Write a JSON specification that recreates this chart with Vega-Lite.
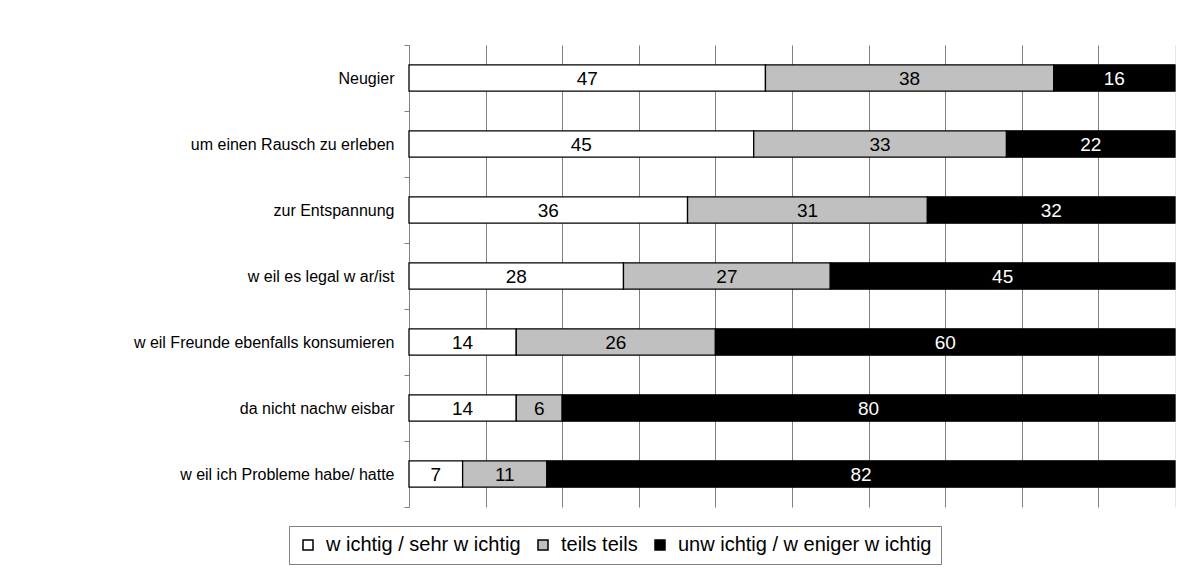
{
  "$schema": "https://vega.github.io/schema/vega-lite/v6.json",
  "width": 766,
  "height": 462,
  "autosize": {"type": "none"},
  "padding": {"left": 409, "top": 45, "right": 29, "bottom": 79},
  "background": "white",
  "config": {
    "view": {"stroke": null},
    "font": "Liberation Sans",
    "axis": {"labelFont": "Liberation Sans", "titleFont": "Liberation Sans"},
    "legend": {"labelFont": "Liberation Sans"}
  },
  "data": {
    "values": [
      {"cat": "Neugier", "resp": "w ichtig / sehr w ichtig", "o": 1, "v": 47},
      {"cat": "Neugier", "resp": "teils teils", "o": 2, "v": 38},
      {"cat": "Neugier", "resp": "unw ichtig / w eniger w ichtig", "o": 3, "v": 16},
      {"cat": "um einen Rausch zu erleben", "resp": "w ichtig / sehr w ichtig", "o": 1, "v": 45},
      {"cat": "um einen Rausch zu erleben", "resp": "teils teils", "o": 2, "v": 33},
      {"cat": "um einen Rausch zu erleben", "resp": "unw ichtig / w eniger w ichtig", "o": 3, "v": 22},
      {"cat": "zur Entspannung", "resp": "w ichtig / sehr w ichtig", "o": 1, "v": 36},
      {"cat": "zur Entspannung", "resp": "teils teils", "o": 2, "v": 31},
      {"cat": "zur Entspannung", "resp": "unw ichtig / w eniger w ichtig", "o": 3, "v": 32},
      {"cat": "w eil es legal w ar/ist", "resp": "w ichtig / sehr w ichtig", "o": 1, "v": 28},
      {"cat": "w eil es legal w ar/ist", "resp": "teils teils", "o": 2, "v": 27},
      {"cat": "w eil es legal w ar/ist", "resp": "unw ichtig / w eniger w ichtig", "o": 3, "v": 45},
      {"cat": "w eil Freunde ebenfalls konsumieren", "resp": "w ichtig / sehr w ichtig", "o": 1, "v": 14},
      {"cat": "w eil Freunde ebenfalls konsumieren", "resp": "teils teils", "o": 2, "v": 26},
      {"cat": "w eil Freunde ebenfalls konsumieren", "resp": "unw ichtig / w eniger w ichtig", "o": 3, "v": 60},
      {"cat": "da nicht nachw eisbar", "resp": "w ichtig / sehr w ichtig", "o": 1, "v": 14},
      {"cat": "da nicht nachw eisbar", "resp": "teils teils", "o": 2, "v": 6},
      {"cat": "da nicht nachw eisbar", "resp": "unw ichtig / w eniger w ichtig", "o": 3, "v": 80},
      {"cat": "w eil ich Probleme habe/ hatte", "resp": "w ichtig / sehr w ichtig", "o": 1, "v": 7},
      {"cat": "w eil ich Probleme habe/ hatte", "resp": "teils teils", "o": 2, "v": 11},
      {"cat": "w eil ich Probleme habe/ hatte", "resp": "unw ichtig / w eniger w ichtig", "o": 3, "v": 82}
    ]
  },
  "encoding": {
    "y": {
      "field": "cat",
      "type": "nominal",
      "sort": null,
      "scale": {"paddingInner": 0, "paddingOuter": 0},
      "axis": {
        "title": null,
        "tickBand": "extent",
        "domainColor": "#808080",
        "domainWidth": 1,
        "tickColor": "#808080",
        "tickSize": 5,
        "labelFontSize": 16,
        "labelColor": "#000000",
        "labelPadding": 10,
        "labelLimit": 0,
        "grid": false
      }
    },
    "x": {
      "field": "v",
      "type": "quantitative",
      "stack": "normalize",
      "scale": {"domain": [0, 1], "nice": false},
      "axis": {
        "title": null,
        "labels": false,
        "ticks": false,
        "domain": false,
        "grid": true,
        "values": [0.1, 0.2, 0.3, 0.4, 0.5, 0.6, 0.7, 0.8, 0.9, 1.0],
        "gridColor": {"condition": {"test": "datum.value >= 0.99", "value": "#e6e6e6"}, "value": "#808080"},
        "gridWidth": 1
      }
    },
    "order": {"field": "o", "type": "quantitative"}
  },
  "layer": [
    {
      "mark": {"type": "bar", "height": {"band": 0.4}, "stroke": "#000000", "strokeWidth": 1.3},
      "encoding": {
        "color": {
          "field": "resp",
          "type": "nominal",
          "sort": null,
          "scale": {
            "domain": ["w ichtig / sehr w ichtig", "teils teils", "unw ichtig / w eniger w ichtig"],
            "range": ["#ffffff", "#c0c0c0", "#000000"]
          },
          "legend": {
            "title": null,
            "orient": "none",
            "legendX": -120,
            "legendY": 481,
            "direction": "horizontal",
            "columns": 3,
            "symbolType": "square",
            "symbolSize": 100,
            "symbolStrokeColor": "#000000",
            "symbolStrokeWidth": 1.5,
            "labelFontSize": 20,
            "labelLimit": 0,
            "labelColor": "#000000",
            "labelOffset": 8,
            "columnPadding": 12,
            "padding": 9,
            "strokeColor": "#808080",
            "fillColor": "#ffffff"
          }
        }
      }
    },
    {
      "mark": {"type": "text", "fontSize": 19, "baseline": "middle", "align": "center", "dy": 1},
      "encoding": {
        "x": {"field": "v", "type": "quantitative", "stack": "normalize", "bandPosition": 0.5},
        "text": {"field": "v", "type": "quantitative"},
        "color": {
          "condition": {"test": "datum.o === 3", "value": "#ffffff"},
          "value": "#000000"
        }
      }
    }
  ]
}
